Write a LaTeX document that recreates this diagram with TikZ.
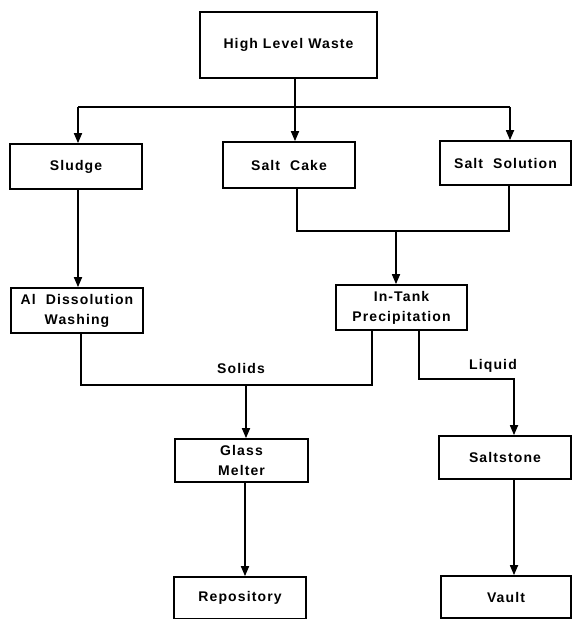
\documentclass[tikz,border=0pt]{standalone}
\usepackage{fontspec}
\newfontfamily\chartfont{Liberation Sans}[LetterSpace=8]
\usetikzlibrary{arrows.meta}

\begin{document}
\begin{tikzpicture}[x=1pt,y=-1pt,
  block/.style 2 args={rectangle,draw,line width=1.7pt,minimum width=#1,minimum height=#2,inner sep=2pt,align=center,anchor=center,font=\chartfont\bfseries\fontsize{14}{20}\selectfont},
  tag/.style={font=\chartfont\bfseries\fontsize{14}{20}\selectfont},
  line/.style={line width=1.7pt},
  flow/.style={line width=1.7pt,-{Triangle[length=10pt,width=8pt]}}]
\useasboundingbox (0,0) rectangle (571,619);

\node[block={177pt}{66pt}] (hlw) at (288.5,45) {High Level Waste};
\node[block={132pt}{45pt}] (sludge) at (76,166.5) {Sludge};
\node[block={132pt}{46pt}] (saltcake) at (289,165) {Salt\ \ Cake};
\node[block={131pt}{44pt}] (saltsol) at (505.5,163) {Salt\ \ Solution};
\node[block={132pt}{45pt}] (aldiss) at (77,310.5) {Al\ \ Dissolution\\Washing};
\node[block={131pt}{45pt}] (intank) at (401.5,307.5) {In-Tank\\Precipitation};
\node[block={133pt}{43pt}] (glass) at (241.5,460.5) {Glass\\Melter};
\node[block={132pt}{43pt}] (saltstone) at (505,457.5) {Saltstone};
\node[block={132pt}{42pt}] (repo) at (240,598) {Repository};
\node[block={130pt}{42pt}] (vault) at (506,597) {Vault};

% split of the waste
\coordinate (fork) at (295,107);
\coordinate (forkL) at (78,107);
\coordinate (forkR) at (510,107);
\draw[flow] (fork |- hlw.south) -- (fork |- saltcake.north);
\draw[line] (forkL) -- (forkR);
\draw[flow] (forkL) -- (forkL |- sludge.north);
\draw[flow] (forkR) -- (forkR |- saltsol.north);

\draw[flow] ([xshift=2pt]sludge.south) -- ([xshift=2pt]sludge.south |- aldiss.north);

\coordinate (merge) at (396,231);
\draw[line] ([xshift=8pt]saltcake.south) |- (merge) -| ([xshift=3.5pt]saltsol.south);
\draw[flow] (merge) -- (merge |- intank.north);

% solids
\coordinate (solids) at (246,385);
\draw[line] ([xshift=4pt]aldiss.south) |- (solids) -| ([xshift=-29.5pt]intank.south);
\draw[flow] (solids) -- (solids |- glass.north);
\node[tag] (solidstag) at (241,368) {Solids};

% liquid
\coordinate (liquid) at (514,379);
\draw[flow] ([xshift=17.5pt]intank.south) |- (liquid) -- (liquid |- saltstone.north);
\node[tag] (liquidtag) at (493,366) {Liquid};

\draw[flow] ([xshift=3.5pt]glass.south) -- ([xshift=3.5pt]glass.south |- repo.north);
\draw[flow] ([xshift=9pt]saltstone.south) -- ([xshift=9pt]saltstone.south |- vault.north);
\end{tikzpicture}
\end{document}
